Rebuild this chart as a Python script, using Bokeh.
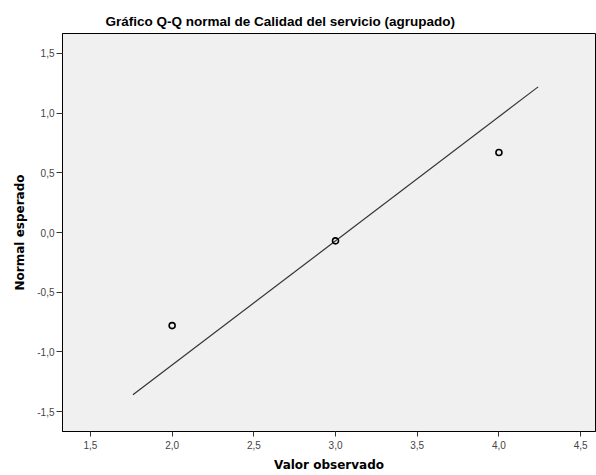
from bokeh.plotting import figure
from bokeh.models import FixedTicker, Range1d
from bokeh.embed import file_html
from bokeh.resources import INLINE

# Data
observed = [2.0, 3.0, 4.0]
expected_normal = [-0.78, -0.07, 0.67]
line_x = [1.76, 4.24]
line_y = [-1.36, 1.22]

x_ticks = [1.5, 2.0, 2.5, 3.0, 3.5, 4.0, 4.5]
x_tick_labels = ["1,5", "2,0", "2,5", "3,0", "3,5", "4,0", "4,5"]
y_ticks = [-1.5, -1.0, -0.5, 0.0, 0.5, 1.0, 1.5]
y_tick_labels = ["-1,5", "-1,0", "-0,5", "0,0", "0,5", "1,0", "1,5"]

FONT = "Liberation Sans"
LABEL_FONT = "DejaVu Sans"

p = figure(width=596, height=475, output_backend="svg", toolbar_location=None,
           x_range=Range1d(1.329, 4.591), y_range=Range1d(-1.667, 1.667),
           min_border_left=62, min_border_right=1, min_border_top=33, min_border_bottom=44,
           background_fill_color="#F0F0F0", border_fill_color="white",
           outline_line_color="black", outline_line_width=1,
           title="Gráfico Q-Q normal de Calidad del servicio (agrupado)")

p.title.text_font = FONT
p.title.text_font_size = "13.5px"
p.title.text_font_style = "bold"
p.title.text_color = "black"
p.title.align = "left"
p.title.padding = dict(left=43, right=0, top=0, bottom=0)
p.title.standoff = 9

p.xgrid.visible = False
p.ygrid.visible = False

p.line(line_x, line_y, line_color="#333333", line_width=1.2)
p.scatter(observed, expected_normal, marker="circle", size=6, fill_color=None,
          line_color="black", line_width=1.6)

for ax, ticks, labels, lab in ((p.xaxis[0], x_ticks, x_tick_labels, "Valor observado"),
                               (p.yaxis[0], y_ticks, y_tick_labels, "Normal esperado")):
    ax.ticker = FixedTicker(ticks=ticks)
    ax.major_label_overrides = {t: l for t, l in zip(ticks, labels)}
    ax.minor_tick_line_color = None
    ax.major_tick_in = 0
    ax.major_tick_line_color = "#333333"
    ax.axis_line_color = "black"
    ax.major_label_text_font = FONT
    ax.major_label_text_font_size = "10px"
    ax.major_label_text_color = "#444444"
    ax.axis_label = lab
    ax.axis_label_text_font = LABEL_FONT
    ax.axis_label_text_font_size = "12px"
    ax.axis_label_text_font_style = "bold"
    ax.axis_label_text_color = "black"

p.xaxis.major_tick_out = 5
p.xaxis.major_label_standoff = 4
p.xaxis.axis_label_standoff = 6
p.yaxis.major_tick_out = 6
p.yaxis.major_label_standoff = 2
p.yaxis.axis_label_standoff = 7
p.yaxis.major_label_orientation = "horizontal"

open("out.html", "w").write(file_html(p, INLINE))
